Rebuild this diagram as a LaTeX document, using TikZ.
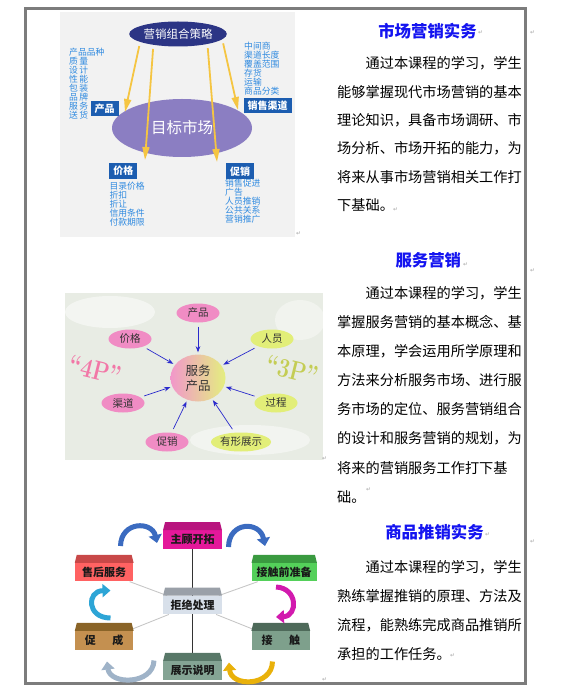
\documentclass[tikz,border=0pt]{standalone}
\usepackage{fontspec}
\newfontfamily\cjk{Noto Sans CJK SC}
\newfontfamily\symfont{DejaVu Sans}
\usepackage{tikz}
\usetikzlibrary{arrows.meta, positioning, calc, shapes.geometric, backgrounds}

\definecolor{titleblue}{HTML}{1414F0}
\definecolor{listblue}{HTML}{2F8AE0}
\definecolor{navy}{HTML}{2C3585}
\definecolor{lavender}{HTML}{8B7EC2}
\definecolor{tagblue}{HTML}{1C5DB0}
\definecolor{gold}{HTML}{F5C542}
\definecolor{pinkp}{HTML}{F08CC4}
\definecolor{limep}{HTML}{E2EE78}
\definecolor{arrowblue}{HTML}{2A2ACC}
\definecolor{markgray}{HTML}{A6A6A6}
\definecolor{framegray}{HTML}{7C7C7C}
\definecolor{washgray}{HTML}{E8ECE4}
% sales cycle boxes: front / top
\definecolor{prospectF}{HTML}{E4189A}
\definecolor{prospectT}{HTML}{B8147E}
\definecolor{afterF}{HTML}{FF6262}
\definecolor{afterT}{HTML}{C84848}
\definecolor{prepF}{HTML}{54D05A}
\definecolor{prepT}{HTML}{3A9A40}
\definecolor{rejectF}{HTML}{D8E0EA}
\definecolor{rejectT}{HTML}{9AA0A8}
\definecolor{closeF}{HTML}{C49050}
\definecolor{closeT}{HTML}{8A6428}
\definecolor{touchF}{HTML}{7EA08C}
\definecolor{touchT}{HTML}{4E6A5A}
\definecolor{showF}{HTML}{84A494}
\definecolor{showT}{HTML}{587868}
% curved arrows
\definecolor{turnblue}{HTML}{3B6BC0}
\definecolor{turnpink}{HTML}{D21AAE}
\definecolor{turngold}{HTML}{E9B10A}
\definecolor{turngray}{HTML}{9FB3C8}
\definecolor{turncyan}{HTML}{2DA5D6}

% top face of a box in the sales cycle
\newcommand{\cubetop}[2]{\fill[#2] (#1.north west) -- ([shift={(2pt,8pt)}]#1.north west) -- ([shift={(-2pt,8pt)}]#1.north east) -- (#1.north east) -- cycle;}

\begin{document}
\begin{tikzpicture}[x=1pt, y=-1pt, >=Stealth,
    every node/.style={inner sep=0pt},
    bodytext/.style={anchor=base west, text width=190pt, align=left},
    headline/.style={anchor=base, text=titleblue, font=\cjk\bfseries\fontsize{16.4}{18}\selectfont},
    pmark/.style={anchor=base west, text=markgray, font=\symfont\fontsize{6}{6}\selectfont},
    tag/.style={fill=tagblue, text=white, font=\cjk\bfseries\fontsize{10}{10}\selectfont, inner xsep=4pt, minimum height=15.5pt},
    factors/.style={anchor=base west, text width=40pt, align=left, text=listblue, font=\cjk\fontsize{8.8}{9}\selectfont},
    goldarrow/.style={draw=gold, line width=1.8pt, -{Triangle[width=7pt,length=13pt]}, shorten <=4pt},
    bubble/.style={ellipse, minimum width=43pt, minimum height=19pt, font=\cjk\fontsize{10.5}{11}\selectfont, text=black!80},
    spoke/.style={->, draw=arrowblue, line width=0.7pt, shorten <=4pt, shorten >=2pt},
    bigp/.style={rotate=-14, xscale=0.8, font=\bfseries\fontsize{27}{27}\selectfont},
    cube/.style={minimum width=58.4pt, minimum height=18.5pt, font=\cjk\bfseries\fontsize{11}{12}\selectfont, text=black!90},
    turn/.style={line width=5pt, -{Triangle[width=13pt,length=8pt]}}
  ]
  \useasboundingbox (0,0) rectangle (560,700);

  % table frame
  \draw[framegray, line width=3pt] (25.5,8.5) rectangle (525.5,683.5);
  \draw[draw=black!75, double=white, double distance=1.2pt, line width=0.6pt] (27,244) -- (524,244);
  \draw[draw=black!75, double=white, double distance=1.2pt, line width=0.6pt] (27,516) -- (524,516);
  \draw[draw=black!75, double=white, double distance=1.2pt, line width=0.6pt] (328,10) -- (328,682);

  % row 1: marketing mix
  \fill[black!5] (60,12) rectangle (295,237);
  \node[ellipse, fill=navy, text=white, minimum width=95pt, minimum height=25pt,
    font=\cjk\fontsize{11.5}{12}\selectfont] (mix) at (178,34) {营销组合策略};
  \node[ellipse, fill=lavender, text=white, minimum width=140pt, minimum height=58pt,
    font=\cjk\fontsize{15.5}{16}\selectfont] (target) at (182,128) {目标市场};
  \node[tag] (tprod) at (104.5,108.5) {产品};
  \node[tag] (tchan) at (267.5,105.5) {销售渠道};
  \node[tag] (tprice) at (123.3,171.2) {价格};
  \node[tag] (tpromo) at (240,171.2) {促销};
  \node[factors] (lprod) at (69,55.3) {产品品种\\质\,量\\设\,计\\性\,能\\包\,装\\品\,牌\\服\,务\\送\,货};
  \node[factors] (lchan) at (244,50) {中间商\\渠道长度\\覆盖范围\\存货\\运输\\商品分类};
  \node[factors] (lprice) at (109.3,190) {目录价格\\折扣\\折让\\信用条件\\付款期限};
  \node[factors] (lpromo) at (225,186.6) {销售促进\\广告\\人员推销\\公共关系\\营销推广};
  \coordinate (p1) at (125,112);
  \coordinate (p2) at (145,160);
  \coordinate (p3) at (217,162);
  \coordinate (p4) at (238,110);
  \draw[goldarrow] (mix.192) -- (p1);
  \draw[goldarrow] (mix.204) -- (p2);
  \draw[goldarrow] (mix.341) -- (p3);
  \draw[goldarrow] (mix.353) -- (p4);

  \node[headline] (mkhead) at (427.5,37.9) {市场营销实务};
  \node[bodytext, font=\cjk\fontsize{14.2}{28.35}\selectfont] (mkbody) at (337,68.7)
    {\hspace*{2em}通过本课程的学习，学生\\能够掌握现代市场营销的基本\\理论知识，具备市场调研、市\\场分析、市场开拓的能力，为\\将来从事市场营销相关工作打\\下基础。};

  % row 2: 4P + 3P
  \fill[washgray] (65,293) rectangle (323,460);
  \fill[white, opacity=0.5] (110,312) ellipse (45pt and 16pt);
  \fill[white, opacity=0.45] (250,440) ellipse (60pt and 15pt);
  \fill[white, opacity=0.4] (300,320) ellipse (25pt and 20pt);
  \node[bigp, text=pinkp!85!red] (fourp) at (95,370) {“4P”};
  \node[bigp, text=limep!70!olive] (threep) at (292,370) {“3P”};
  \node[ellipse, left color=pinkp!90, right color=limep!95, minimum width=55pt, minimum height=47pt,
    align=center, text=black!80, font=\cjk\fontsize{12.5}{15}\selectfont] (svc) at (198,378) {服务\\产品};
  \node[bubble, fill=pinkp] (prod) at (198,313) {产品};
  \node[bubble, fill=pinkp] (price) at (130,339) {价格};
  \node[bubble, fill=limep] (staff) at (272,339) {人员};
  \node[bubble, fill=pinkp] (chan) at (123,403) {渠道};
  \node[bubble, fill=limep] (proc) at (276,403) {过程};
  \node[bubble, fill=pinkp] (promo) at (167,442) {促销};
  \node[bubble, fill=limep, minimum width=60pt] (phys) at (241,442) {有形展示};
  \draw[spoke] (prod) -- (svc);
  \draw[spoke] (price) -- (svc);
  \draw[spoke] (staff) -- (svc);
  \draw[spoke] (chan) -- (svc);
  \draw[spoke] (proc) -- (svc);
  \draw[spoke] (promo) -- (svc);
  \draw[spoke] (phys) -- (svc);

  \node[headline] (svhead) at (428.3,266.9) {服务营销};
  \node[bodytext, font=\cjk\fontsize{14.2}{29.05}\selectfont] (svbody) at (337,298.7)
    {\hspace*{2em}通过本课程的学习，学生\\掌握服务营销的基本概念、基\\本原理，学会运用所学原理和\\方法来分析服务市场、进行服\\务市场的定位、服务营销组合\\的设计和服务营销的规划，为\\将来的营销服务工作打下基\\础。};

  % row 3: selling cycle
  \node[cube, fill=prospectF] (prospect) at (192.5,539.5) {主顾开拓};
  \node[cube, fill=afterF] (after) at (104.2,572.2) {售后服务};
  \node[cube, fill=prepF, minimum width=65pt] (prep) at (284.2,572.2) {接触前准备};
  \node[cube, fill=rejectF] (reject) at (192.5,605) {拒绝处理};
  \node[cube, fill=closeF] (close) at (104.2,640.3) {促\hspace{1.5em}成};
  \node[cube, fill=touchF] (touch) at (280.8,640.3) {接\hspace{1.5em}触};
  \node[cube, fill=showF] (show) at (192.5,670.3) {展示说明};
  \cubetop{prospect}{prospectT}
  \cubetop{after}{afterT}
  \cubetop{prep}{prepT}
  \cubetop{reject}{rejectT}
  \cubetop{close}{closeT}
  \cubetop{touch}{touchT}
  \cubetop{show}{showT}
  \begin{scope}[on background layer]
    \draw[black!80, line width=0.9pt] (prospect) -- (reject) -- (show);
    \draw[black!22, line width=0.9pt] (reject) -- (after);
    \draw[black!22, line width=0.9pt] (reject) -- (prep);
    \draw[black!22, line width=0.9pt] (reject) -- (close);
    \draw[black!22, line width=0.9pt] (reject) -- (touch);
  \end{scope}
  \coordinate (t1a) at (120.5,546);
  \coordinate (t1b) at (157,543);
  \coordinate (t2a) at (228.5,547);
  \coordinate (t2b) at (265,546);
  \coordinate (t3a) at (276,587);
  \coordinate (t3b) at (276,617);
  \coordinate (t4a) at (272.5,661.5);
  \coordinate (t4b) at (229,662.5);
  \coordinate (t5a) at (154,660.5);
  \coordinate (t5b) at (107,661.5);
  \coordinate (t6a) at (110.5,618);
  \coordinate (t6b) at (110.5,590.5);
  \draw[turn, turnblue] (t1a) .. controls (121,521) and (152,521) .. (t1b);
  \draw[turn, turnblue] (t2a) .. controls (229,521) and (260,521) .. (t2b);
  \draw[turn, turnpink] (t3a) .. controls (298,588) and (298,616) .. (t3b);
  \draw[turn, turngold] (t4a) .. controls (272,687) and (231,687) .. (t4b);
  \draw[turn, turngray] (t5a) .. controls (153,685) and (110,685) .. (t5b);
  \draw[turn, turncyan] (t6a) .. controls (86.5,618) and (86.5,591) .. (t6b);

  \node[headline] (slhead) at (434.5,538.9) {商品推销实务};
  \node[bodytext, font=\cjk\fontsize{14.2}{29.1}\selectfont] (slbody) at (337,572)
    {\hspace*{2em}通过本课程的学习，学生\\熟练掌握推销的原理、方法及\\流程，能熟练完成商品推销所\\承担的工作任务。};

  % paragraph marks
  \node[pmark] (m1) at (478,35) {↵};
  \node[pmark] (m2) at (530,35) {↵};
  \node[pmark] (m3) at (393,212) {↵};
  \node[pmark] (m4) at (296,236) {↵};
  \node[pmark] (m5) at (463,266) {↵};
  \node[pmark] (m6) at (530,272) {↵};
  \node[pmark] (m7) at (366,491) {↵};
  \node[pmark] (m8) at (322,460) {↵};
  \node[pmark] (m9) at (485,536) {↵};
  \node[pmark] (m10) at (530,543) {↵};
  \node[pmark] (m11) at (450,657) {↵};
  \node[pmark] (m12) at (322,681) {↵};
\end{tikzpicture}
\end{document}
